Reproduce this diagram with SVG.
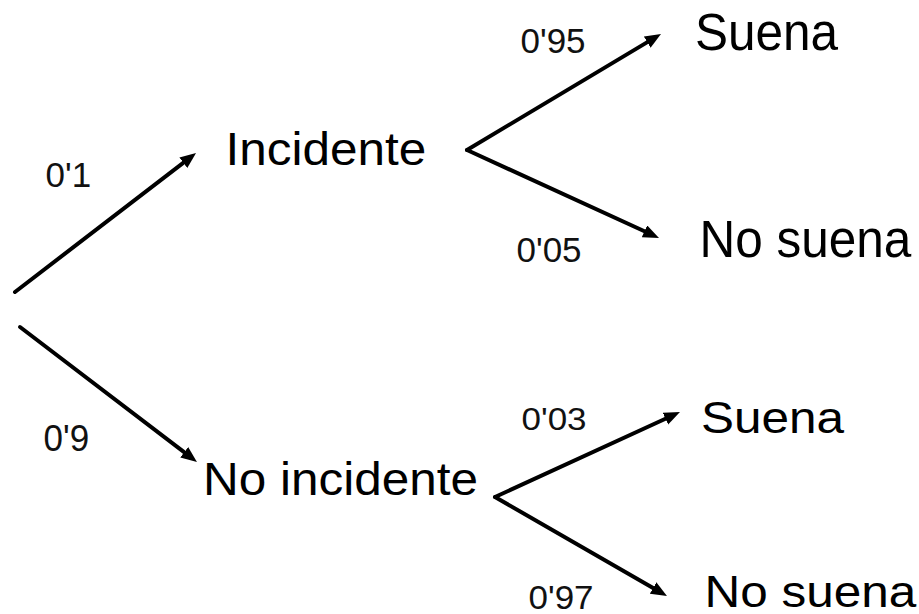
<svg xmlns="http://www.w3.org/2000/svg" width="919" height="614" viewBox="0 0 919 614">
<style>
.node{font-family:"Liberation Sans",Arial,sans-serif;font-size:49.5px;fill:#000}
.lbl{font-family:"Liberation Sans",Arial,sans-serif;font-size:35px;fill:#111}
.edge{stroke:#000;stroke-width:4;fill:none;stroke-linecap:round;marker-end:url(#ah)}
</style>
<defs>
<marker id="ah" markerUnits="userSpaceOnUse" markerWidth="18" markerHeight="14" refX="6" refY="6.5" orient="auto" viewBox="0 0 18 14">
<path d="M0,0 L16,6.5 L0,13 z" fill="#000"/>
</marker>
</defs>
<rect width="919" height="614" fill="#fff"/>
<g id="connectors">
<path class="edge" d="M15,292 L188.1,159.1"/>
<path class="edge" d="M20,327 L189,455.9"/>
<path class="edge" d="M467,150 L652.4,39.1"/>
<path class="edge" d="M467,150 L649.9,233.8"/>
<path class="edge" d="M495,497 L670.9,416.2"/>
<path class="edge" d="M495,497 L658.3,591"/>
</g>
<g id="labels">
<text class="lbl" transform="translate(45.5,187)">0'1</text>
<text class="lbl" transform="translate(43.5,451) scale(1,1.05)">0'9</text>
<text class="lbl" transform="translate(520.5,53)">0'95</text>
<text class="lbl" transform="translate(516.5,262)">0'05</text>
<text class="lbl" transform="translate(521.5,430) scale(1,0.92)">0'03</text>
<text class="lbl" transform="translate(528.5,609) scale(1,0.95)">0'97</text>
</g>
<g id="incidente"><text class="node" transform="translate(225.5,165) scale(1,0.94)">Incidente</text></g>
<g id="no-incidente"><text class="node" transform="translate(203,495) scale(1,0.94)">No incidente</text></g>
<g id="suena-1"><text class="node" transform="translate(695,50) scale(1,1.04)">Suena</text></g>
<g id="no-suena-1"><text class="node" transform="translate(699.5,257) scale(1,1.04)">No suena</text></g>
<g id="suena-2"><text class="node" transform="translate(701,433) scale(1,0.88)">Suena</text></g>
<g id="no-suena-2"><text class="node" transform="translate(704.5,607) scale(1,0.88)">No suena</text></g>
</svg>
